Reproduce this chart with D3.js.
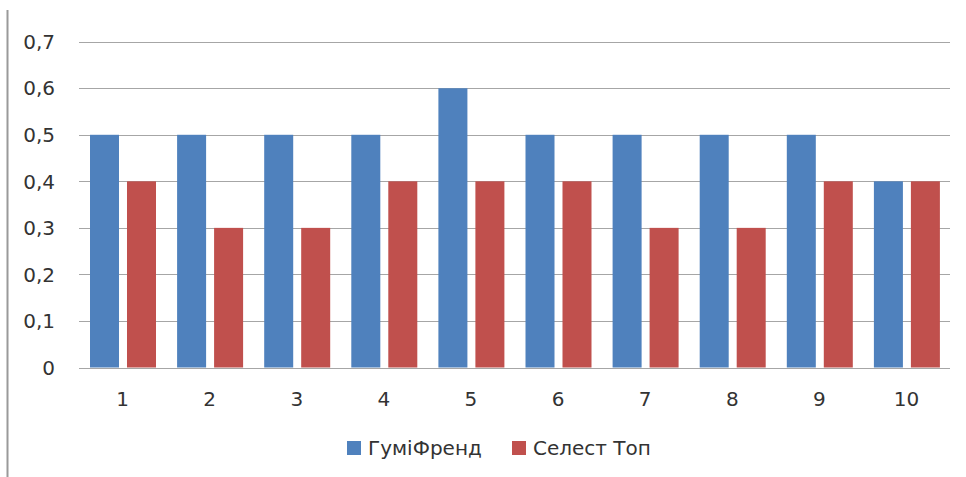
<!DOCTYPE html>
<html><head><meta charset="utf-8">
<script src="https://cdn.jsdelivr.net/npm/d3@7"></script>
<style>body{margin:0;background:#fff}svg{display:block}</style>
</head><body>
<svg id="c" width="966" height="477"></svg>
<script>
const categories = ["1","2","3","4","5","6","7","8","9","10"];
const seriesNames = ["ГуміФренд","Селест Топ"];
const gumiValues = [0.5,0.5,0.5,0.5,0.6,0.5,0.5,0.5,0.5,0.4];
const selestValues = [0.4,0.3,0.3,0.4,0.4,0.4,0.3,0.3,0.4,0.4];
const yTicks = [0,0.1,0.2,0.3,0.4,0.5,0.6,0.7];
const colors = ["#4F81BD","#C0504D"];

(function(){
const svg = d3.select("#c");
const pL = 79, pR = 950, pT = 41.7, pB = 367.5;
const font = "'DejaVu Sans', sans-serif";
const fs = 20;

svg.append("line").attr("x1",7.5).attr("x2",7.5).attr("y1",10).attr("y2",477)
  .attr("stroke","#9a9a9a").attr("stroke-width",2);

const y = d3.scaleLinear().domain([0,0.7]).range([pB, pT]);
const x0 = d3.scaleBand().domain(categories).range([pL, pR]).padding(0);
const x1 = d3.scaleBand().domain(seriesNames).range([11, 77]).paddingInner(0.216);

svg.append("g").selectAll("line").data(yTicks).join("line")
  .attr("x1",pL).attr("x2",pR)
  .attr("y1",d=>Math.round(y(d))+0.5).attr("y2",d=>Math.round(y(d))+0.5)
  .attr("stroke","#a6a6a6").attr("stroke-width",1.2);

svg.append("g").selectAll("text").data(yTicks).join("text")
  .attr("x",55).attr("y",d=>y(d)).attr("dy","0.36em")
  .attr("text-anchor","end").attr("font-family",font).attr("font-size",fs)
  .attr("fill","#333").text(d=>d===0?"0":d3.format(".1f")(d).replace(".",","));

const data = categories.map((c,i)=>({c, vals:[gumiValues[i], selestValues[i]]}));
const g = svg.append("g").selectAll("g").data(data).join("g")
  .attr("transform",d=>`translate(${x0(d.c)},0)`);
g.selectAll("rect").data(d=>d.vals.map((v,j)=>({s:seriesNames[j],v,j}))).join("rect")
  .attr("x",d=>x1(d.s)).attr("width",x1.bandwidth())
  .attr("y",d=>y(d.v)).attr("height",d=>y(0)-y(d.v))
  .attr("fill",d=>colors[d.j]);

svg.append("line").attr("x1",pL).attr("x2",pR)
  .attr("y1",Math.round(y(0))+0.5).attr("y2",Math.round(y(0))+0.5)
  .attr("stroke","#a6a6a6").attr("stroke-width",1.2);

svg.append("g").selectAll("text").data(categories).join("text")
  .attr("x",d=>x0(d)+x0.bandwidth()/2).attr("y",406)
  .attr("text-anchor","middle").attr("font-family",font).attr("font-size",fs)
  .attr("fill","#333").text(d=>d);

const legX = [347, 512];
const leg = svg.append("g").selectAll("g").data(seriesNames).join("g")
  .attr("transform",(d,i)=>`translate(${legX[i]},441)`);
leg.append("rect").attr("width",14).attr("height",14).attr("fill",(d,i)=>colors[i]);
leg.append("text").attr("x",21).attr("y",7).attr("dy","0.36em")
  .attr("font-family",font).attr("font-size",fs).attr("fill","#333").text(d=>d);
})();
</script>
</body></html>
